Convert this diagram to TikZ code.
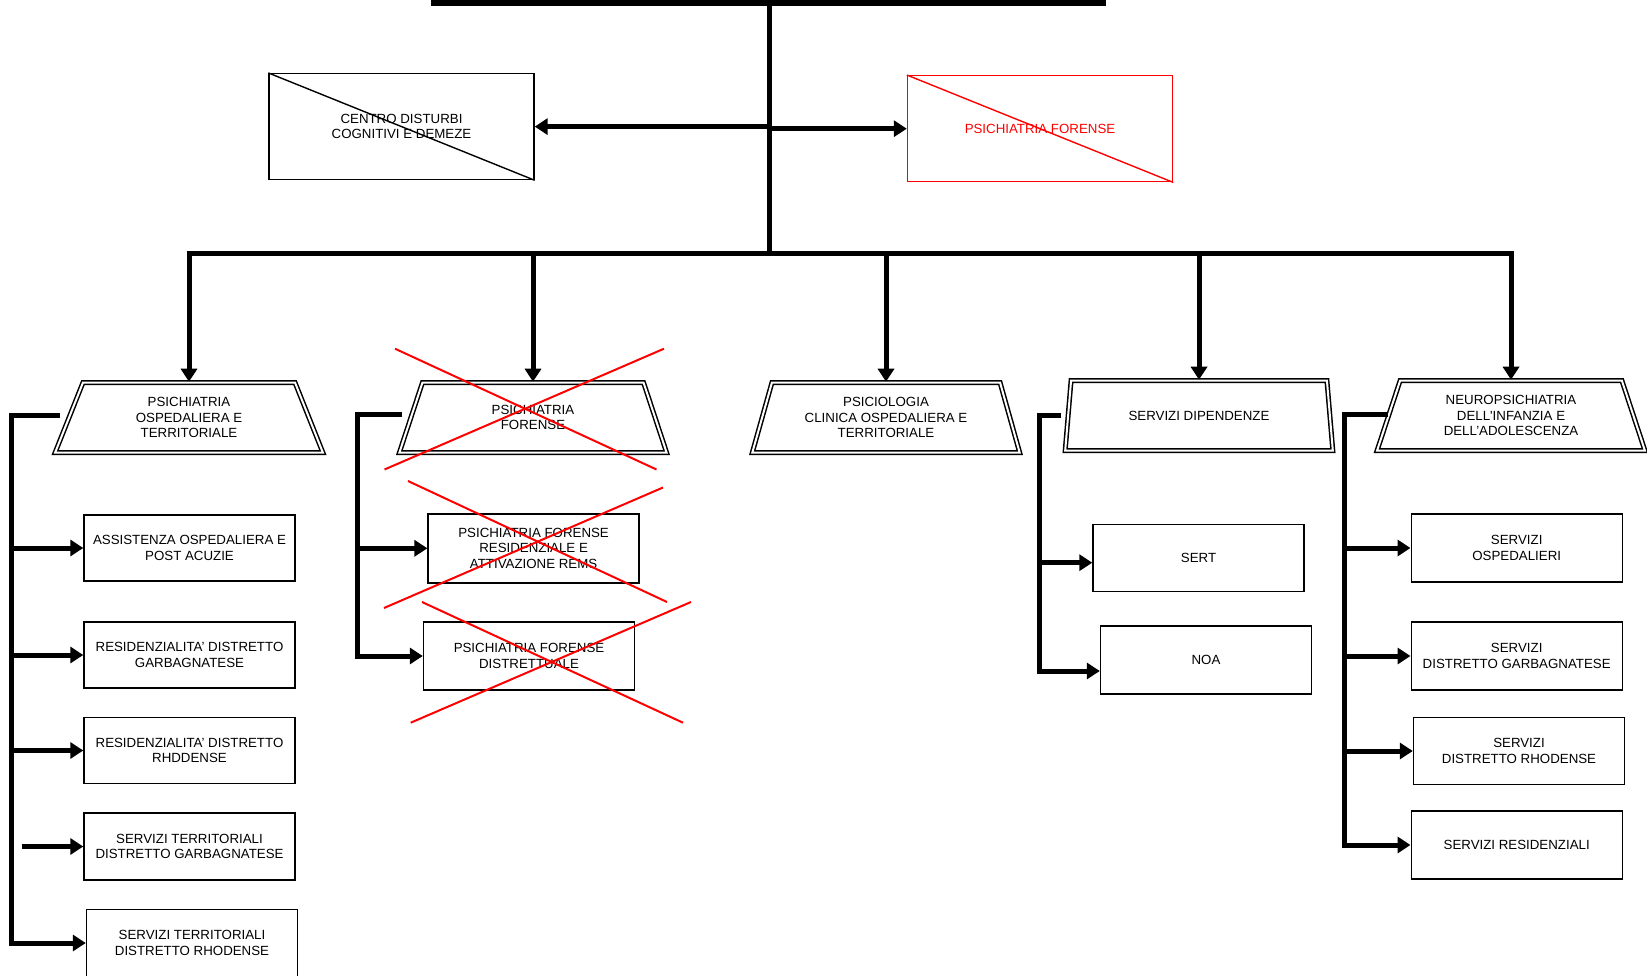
\documentclass[tikz,border=0pt]{standalone}
\usepackage{fontspec}
\setmainfont{Liberation Sans}
\usetikzlibrary{shapes.geometric,arrows.meta}

\begin{document}
\begin{tikzpicture}[
     x = 1pt,
     y = -1pt,
     font = \fontsize{13.3}{15.6}\selectfont,
     >={Triangle[length=13pt,width=16pt]}
    ]
    \tikzstyle{unit}=[trapezium, trapezium left angle=71, trapezium right angle=71,
      trapezium stretches=true, minimum width=268pt, minimum height=70pt,
      draw, line width=1.5pt, double, double distance=2pt, align=center, inner sep=0pt]
    \tikzstyle{service}=[rectangle, draw, line width=1.4pt, minimum width=211pt,
      minimum height=66pt, align=center, inner sep=2pt]
    \tikzstyle{bar}=[line width=5pt]
    \tikzstyle{link}=[line width=5pt, ->]
    \tikzstyle{cross}=[red, line width=2pt]

    \useasboundingbox (0,0) rectangle (1647,976);

    % top of the chart
    \draw[line width=6pt] (431,3) -- (1106,3);
    \coordinate (top) at (769,3);
    \coordinate (hub) at (769,254);

    \node[service, minimum width=265pt, minimum height=106pt] (centro) at (401.5,126.6)
      {CENTRO DISTURBI\\COGNITIVI E DEMEZE};
    \node[service, red, minimum width=265pt, minimum height=106pt] (forense) at (1040,128.7)
      {PSICHIATRIA FORENSE};
    \draw[line width=1.4pt] (centro.north west) -- (centro.south east);
    \draw[line width=1.4pt, red] (forense.north west) -- (forense.south east);

    \draw[bar] (top) -- (hub);
    \draw[link] (hub |- centro.east) -- (centro.east);
    \draw[link] (hub |- forense.west) -- (forense.west);

    % departments
    \node[unit] (psichiatria) at (189,417.5) {PSICHIATRIA\\OSPEDALIERA E\\TERRITORIALE};
    \node[unit] (psforense) at (533,417.5) {PSICHIATRIA\\FORENSE};
    \node[unit] (psicologia) at (886,417.5) {PSICIOLOGIA\\CLINICA OSPEDALIERA E\\TERRITORIALE};
    \node[unit] (dipendenze) at (1199,415.5) {SERVIZI DIPENDENZE};
    \node[unit] (npia) at (1511,415.5)
      {NEUROPSICHIATRIA\\DELL\textquotesingle INFANZIA E\\DELL’ADOLESCENZA};

    \draw[link] (hub) -| (psichiatria.north);
    \draw[link] (hub) -| (npia.north);
    \draw[link] (psforense.north |- hub) -- (psforense.north);
    \draw[link] (psicologia.north |- hub) -- (psicologia.north);
    \draw[link] (dipendenze.north |- hub) -- (dipendenze.north);

    % psichiatria ospedaliera e territoriale
    \node[service] (assistenza) at (189.5,548) {ASSISTENZA OSPEDALIERA E\\POST ACUZIE};
    \node[service] (resgarb) at (189.5,655) {RESIDENZIALITA’ DISTRETTO\\GARBAGNATESE};
    \node[service] (resrho) at (189.5,750.5) {RESIDENZIALITA’ DISTRETTO\\RHDDENSE};
    \node[service, minimum height=67pt] (terrgarb) at (189.5,846.5)
      {SERVIZI TERRITORIALI\\DISTRETTO GARBAGNATESE};
    \node[service, minimum height=67pt] (terrrho) at (192,943)
      {SERVIZI TERRITORIALI\\DISTRETTO RHODENSE};

    \coordinate (spine1) at (11.5,415);
    \draw[link] ([xshift=-8pt,yshift=2pt]psichiatria.left side) -| (spine1 |- terrrho.west) -- (terrrho.west);
    \draw[link] (spine1 |- assistenza.west) -- (assistenza.west);
    \draw[link] (spine1 |- resgarb.west) -- (resgarb.west);
    \draw[link] (spine1 |- resrho.west) -- (resrho.west);
    \draw[link] ([xshift=10pt]spine1 |- terrgarb.west) -- (terrgarb.west);

    % psichiatria forense
    \node[service, minimum height=69pt] (pfres) at (533.6,548.3)
      {PSICHIATRIA FORENSE\\RESIDENZIALE E\\ATTIVAZIONE REMS};
    \node[service, minimum height=68pt] (pfdist) at (529,656)
      {PSICHIATRIA FORENSE\\DISTRETTUALE};

    \coordinate (spine2) at (357,414);
    \draw[link] ([xshift=-8pt,yshift=3pt]psforense.left side) -| (spine2 |- pfdist.west) -- (pfdist.west);
    \draw[link] (spine2 |- pfres.west) -- (pfres.west);

    \draw[cross] (395,348.7) -- (656.5,469.5);
    \draw[cross] (664,348.7) -- (384.5,469.5);
    \draw[cross] (408,481) -- (667,602);
    \draw[cross] (663,487.5) -- (384,608);
    \draw[cross] (422,602) -- (683,722.7);
    \draw[cross] (691,602) -- (410.7,722.7);

    % servizi dipendenze
    \node[service, minimum height=67pt] (sert) at (1198.5,557.7) {SERT};
    \node[service, minimum height=68pt] (noa) at (1206,660) {NOA};

    \coordinate (spine4) at (1039,416);
    \draw[link] ([xshift=-6pt]dipendenze.left side) -| ([yshift=-11pt]spine4 |- noa.west) -- ([yshift=-11pt]noa.west);
    \draw[link] ([yshift=-5pt]spine4 |- sert.west) -- ([yshift=-5pt]sert.west);

    % neuropsichiatria
    \node[service, minimum height=68pt] (ospedalieri) at (1516.7,548) {SERVIZI\\OSPEDALIERI};
    \node[service, minimum height=68pt] (sgarb) at (1516.7,656) {SERVIZI\\DISTRETTO GARBAGNATESE};
    \node[service, minimum height=67pt] (srho) at (1519,751) {SERVIZI\\DISTRETTO RHODENSE};
    \node[service, minimum height=68pt] (residenziali) at (1516.7,845) {SERVIZI RESIDENZIALI};

    \coordinate (spine5) at (1344.5,414);
    \draw[link] ([yshift=1pt]npia.left side) -| (spine5 |- residenziali.west) -- (residenziali.west);
    \draw[link] (spine5 |- ospedalieri.west) -- (ospedalieri.west);
    \draw[link] (spine5 |- sgarb.west) -- (sgarb.west);
    \draw[link] (spine5 |- srho.west) -- (srho.west);
\end{tikzpicture}
\end{document}
